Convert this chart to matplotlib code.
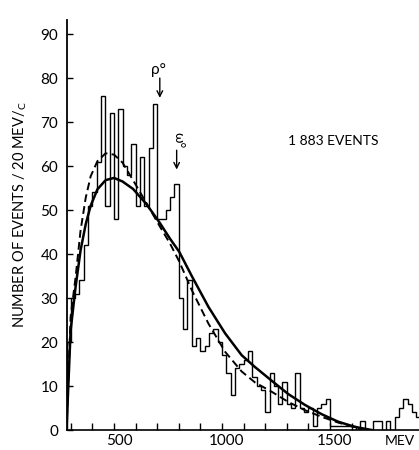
import numpy as np
import matplotlib
matplotlib.use('Agg')
import matplotlib.pyplot as plt
from matplotlib.transforms import ScaledTranslation

plt.rcParams['font.family'] = ['Lato', 'DejaVu Sans']
plt.rcParams['mathtext.fontset'] = 'custom'
plt.rcParams['mathtext.rm'] = 'Lato'

# === Data ===
# pi+pi- mass histogram, 20 MeV bins starting at threshold (280 MeV)
bin_start = 280
bin_width = 20
counts = [
    20, 30, 31, 34, 42, 51, 54, 61, 76, 51, 72, 48, 73, 60,
    58, 65, 51, 62, 51, 64, 74, 48, 48, 50, 53, 56,
    30, 23, 34, 19, 21, 18, 19, 22, 23, 20, 17, 13, 8, 14, 15, 16, 18, 12, 10,
    9, 4, 13, 10, 6, 11, 6, 5, 13, 5, 4, 5, 1, 5, 6, 7,
    1, 1, 1, 1, 1, 1, 0, 2, 0, 0, 2, 2, 0, 2, 0, 3, 5, 7, 6, 4, 3,
]

# fitted curves (solid and dashed)
solid_mev = [280, 299, 322, 345, 369, 392, 423, 461, 500, 539, 588, 651, 713,
             759, 802, 860, 937, 1014, 1091, 1153, 1230, 1306, 1384, 1461,
             1537, 1616, 1693]
solid_val = [0, 22.6, 32.5, 40.8, 46.8, 51.0, 54.7, 56.8, 57.3, 56.5, 54.8,
             51.3, 47.0, 43.5, 40.5, 35.0, 28.0, 22.0, 17.0, 14.3, 11.2, 8.2,
             5.7, 3.6, 1.9, 0.7, 0]
dashed_mev = [280, 299, 322, 345, 369, 392, 423, 461, 500, 539, 588, 651, 713,
              759, 802, 860, 937, 1014, 1091, 1153, 1230, 1306, 1384, 1461,
              1537, 1616, 1650]
dashed_val = [0, 25.7, 34.7, 45.3, 52.8, 57.7, 61.1, 62.9, 62.6, 60.8, 56.8,
              51.5, 46.2, 42.4, 38.3, 31.8, 24.2, 17.8, 13.3, 10.8, 8.7, 6.4,
              4.5, 3.0, 1.7, 0.6, 0]

x_ticks = list(range(300, 1700, 100))
x_tick_labels = ['500' if t == 500 else '1000' if t == 1000 else '1500' if t == 1500 else ''
                 for t in x_ticks]
y_ticks = list(range(0, 100, 10))
y_tick_labels = [str(t) for t in y_ticks]

# resonance markers: (label, mass, arrow top, arrow tip, label height)
rho = ('ρ°', 712, 80.0, 75.5, 80.3)
omega = ('ω°', 790, 63.6, 59.2, 66.0)


def main():
    fig = plt.figure(figsize=(4.19, 4.5), dpi=100)
    ax = fig.add_axes([66.5 / 419, 20 / 450, 1 - 66.5 / 419, 410 / 450])

    edges = bin_start + bin_width * np.arange(len(counts) + 1)
    ax.stairs(counts, edges, color='black', lw=1.0, baseline=0)

    ax.plot(solid_mev, solid_val, color='black', lw=1.8, solid_capstyle='round')
    ax.plot(dashed_mev, dashed_val, color='black', lw=1.4, dashes=(4, 2.2))

    ax.set_xlim(280, 1912)
    ax.set_ylim(0, 93.2)

    for spine in ['top', 'right']:
        ax.spines[spine].set_visible(False)
    ax.spines['left'].set_linewidth(1.3)
    ax.spines['bottom'].set_linewidth(1.2)

    ax.set_xticks(x_ticks)
    ax.set_xticklabels(x_tick_labels, fontsize=11)
    ax.set_yticks(y_ticks)
    ax.set_yticklabels(y_tick_labels, fontsize=11)
    ax.tick_params(axis='x', direction='in', length=5, width=1, pad=3)
    ax.tick_params(axis='y', direction='in', length=4, width=1, pad=6)

    # labels on this old plate sit a little right of their ticks
    shift = ScaledTranslation(5 / 100, 0, fig.dpi_scale_trans)
    for lbl in ax.get_xticklabels():
        lbl.set_transform(lbl.get_transform() + shift)

    for name, mass, top, tip, lab_y in [rho, omega]:
        ax.annotate('', xy=(mass, tip), xytext=(mass, top),
                    arrowprops=dict(arrowstyle='->', color='black', lw=1.0,
                                    shrinkA=0, shrinkB=0))
    ax.text(rho[1] - 8, rho[4], rho[0], fontsize=11, ha='center', va='bottom')
    ax.text(omega[1] + 8, omega[4], omega[0], fontsize=10, ha='center', va='center',
            rotation=-90)

    ax.text(1514, 65.7, '1 883 EVENTS', fontsize=10, ha='center', va='center')

    fig.text(20 / 419, 1 - 215 / 450, 'NUMBER OF EVENTS / 20 MEV$/_{\\mathrm{C}}$',
             rotation=90, ha='center', va='center', fontsize=10.5)
    fig.text(400 / 419, 1 - 441 / 450, 'MEV', ha='center', va='center', fontsize=10)

    fig.savefig('out.png', dpi=100)
    plt.close(fig)


if __name__ == '__main__':
    main()
